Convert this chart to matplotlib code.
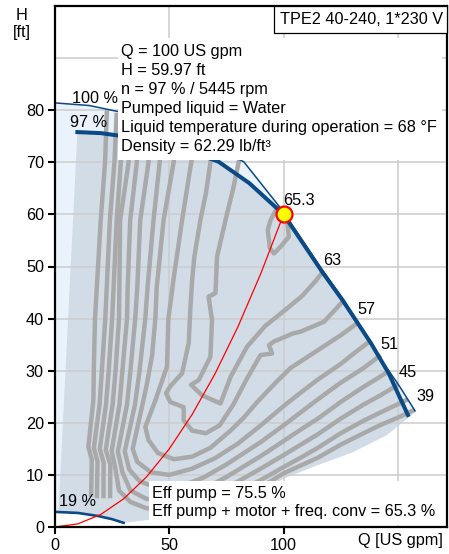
import matplotlib
matplotlib.use('Agg')
import matplotlib.pyplot as plt
from matplotlib.patches import Rectangle

plt.rcParams['font.family'] = ['Liberation Sans', 'DejaVu Sans']

# ---------------- data ----------------
x_ticks = [0, 50, 100]
y_ticks = [0, 10, 20, 30, 40, 50, 60, 70, 80]

# 100 % max curve (thin)
max_q = [0, 15, 28, 45, 60, 72, 82.6, 98.7, 100, 117, 126, 134, 141.5, 150, 157.5]
max_h = [81.4, 80.9, 79.7, 77.5, 75.0, 72.5, 70.1, 61.2, 60.4, 49.3, 43.8, 38.3, 32.8, 27.5, 22.3]
# 97 % curve (thick)
c97_q = [9.8, 20, 30, 45, 60, 71.6, 85, 100, 117, 126, 138.2, 146, 154.4]
c97_h = [75.8, 75.6, 75.0, 73.8, 72.0, 70.1, 66.0, 60.0, 48.9, 43.4, 35.3, 29.5, 21.5]
# 19 % curve
c19_q = [0, 10, 19, 25, 30]
c19_h = [2.9, 2.7, 2.1, 1.5, 0.8]
# min curve (lower boundary)
min_q = [30, 45, 60, 75, 90, 100, 115, 130, 145, 158]
min_h = [0.8, 1.6, 2.6, 3.8, 6.6, 9.3, 11.9, 14.3, 17.6, 22.2]
# left edge of shaded area
edge_q = [1.5, 9.8]
edge_h = [2.85, 75.8]
# system curve
sys_q = [0, 10, 20, 30, 40, 50, 60, 70, 80, 90, 100]
sys_h = [0, 0.6, 2.4, 5.4, 9.6, 15.0, 21.6, 29.4, 38.4, 48.6, 60.0]
duty_q = [100]
duty_h = [60]

# efficiency iso-curves
c65_q = [97.6, 94.3, 93.1, 94.0, 95.8, 98.7, 102.3, 101.6, 101.0]
c65_h = [61.6, 58.9, 57.0, 53.5, 52.5, 53.8, 55.7, 58.9, 59.7]
c63_q = [80.8, 78.0, 75.3, 74.6, 72.0, 70.9, 70.2, 67.2, 68.7, 68.0, 62.9, 59.5, 64.3, 72.4, 76.8, 84.0, 92.0, 100.0, 108.0, 114.0, 117.0]
c63_h = [71.0, 65.0, 60.2, 58.9, 54.0, 51.9, 44.9, 44.2, 39.7, 32.7, 28.2, 27.3, 25.3, 23.7, 28.8, 34.6, 38.6, 41.4, 44.3, 47.2, 48.9]
c60_q = [69.5, 68.0, 66.0, 63.6, 61.0, 60.0, 59.2, 58.5, 55.6, 50.4, 48.6, 50.4, 56.3, 56.3, 60.0, 66.0, 72.0, 78.0, 84.0, 89.9, 95.0, 93.6, 95.8, 103.8, 107.5, 117.7, 125.7]
c60_h = [73.2, 70.0, 64.0, 58.9, 52.0, 47.4, 41.7, 35.3, 29.5, 27.0, 25.7, 24.0, 23.0, 20.5, 18.5, 18.0, 19.5, 23.5, 28.5, 33.0, 33.3, 34.9, 35.6, 37.1, 37.5, 39.4, 43.2]
c57_q = [61.5, 59.6, 55.6, 52.0, 49.6, 49.0, 44.0, 39.5, 40.9, 45.0, 52.0, 60.0, 68.0, 76.8, 82.6, 88.5, 97.2, 103.0, 110.0, 118.0, 125.0, 132.5]
c57_h = [75.5, 70.0, 58.9, 48.0, 40.0, 30.8, 24.4, 19.2, 16.7, 14.2, 13.0, 13.5, 15.2, 18.5, 21.0, 24.0, 28.0, 30.5, 32.5, 34.8, 36.8, 39.2]
c54_q = [52.8, 51.9, 47.5, 44.5, 43.9, 42.5, 40.0, 37.0, 34.0, 36.0, 42.0, 50.0, 60.0, 70.0, 80.0, 90.0, 100.0, 107.5, 115.0, 125.0, 131.0, 137.3]
c54_h = [74.0, 70.0, 58.9, 46.0, 40.0, 33.0, 27.0, 21.0, 15.0, 12.5, 10.5, 10.0, 11.2, 13.2, 16.0, 19.5, 23.2, 25.8, 28.3, 31.3, 33.4, 35.5]
c51_q = [46.5, 45.8, 43.1, 40.5, 39.5, 37.0, 35.0, 30.5, 32.5, 37.0, 44.0, 55.0, 65.0, 75.0, 90.0, 100.0, 107.5, 115.0, 125.0, 135.0, 142.5]
c51_h = [76.5, 70.0, 58.9, 46.0, 40.0, 30.0, 23.5, 14.5, 11.0, 8.8, 7.6, 7.8, 9.5, 12.0, 16.3, 19.5, 22.0, 24.5, 27.7, 30.5, 33.0]
c48_q = [41.5, 40.9, 37.3, 36.0, 35.1, 33.0, 31.5, 27.5, 29.5, 33.0, 40.0, 50.0, 62.0, 75.0, 90.0, 100.0, 107.5, 115.0, 125.0, 135.0, 141.0, 145.6]
c48_h = [77.0, 70.0, 58.9, 46.0, 40.0, 30.0, 23.5, 14.5, 10.5, 7.0, 5.4, 5.2, 6.6, 9.6, 13.6, 16.5, 18.7, 20.8, 24.0, 26.9, 28.5, 29.8]
c45_q = [36.5, 35.8, 32.9, 31.8, 31.5, 29.5, 28.2, 24.8, 26.5, 28.0, 33.0, 40.0, 50.0, 60.0, 75.0, 90.0, 100.0, 107.5, 115.0, 125.0, 135.0, 142.5, 150.0]
c45_h = [77.5, 70.0, 58.9, 46.0, 40.0, 30.0, 23.5, 14.6, 11.0, 7.0, 4.8, 3.6, 3.4, 4.5, 7.5, 11.2, 13.8, 15.8, 17.8, 20.8, 23.5, 25.3, 27.3]
c42_q = [33.0, 32.2, 28.5, 28.0, 26.5, 25.2, 22.2, 24.2, 24.1]
c42_h = [78.0, 70.0, 58.9, 40.0, 30.0, 23.5, 14.8, 12.0, 5.5]
c39_q = [29.5, 28.8, 27.0, 25.0, 23.5, 22.3, 19.6, 21.3, 21.2]
c39_h = [78.5, 70.0, 58.9, 40.0, 30.0, 23.5, 15.0, 12.3, 5.5]
c36_q = [27.0, 26.0, 24.0, 22.0, 20.5, 19.5, 17.0, 18.6, 18.3]
c36_h = [79.5, 70.0, 58.9, 40.0, 30.0, 23.5, 15.2, 12.6, 5.5]
c33_q = [22.7, 21.9, 20.0, 17.5, 17.0, 16.8, 14.6, 16.1, 15.8]
c33_h = [80.0, 70.0, 58.9, 40.0, 30.8, 24.4, 15.4, 12.9, 5.8]
c42r_q = [55, 65, 75, 90, 100, 107.5, 115, 125, 135, 142.5, 154.4]
c42r_h = [2.8, 4.0, 5.8, 9.0, 11.5, 13.3, 15.2, 18.0, 20.4, 22.0, 24.5]
c39r_q = [55, 65, 75, 90, 100, 107.5, 115, 125, 135, 142.5, 150, 157.3]
c39r_h = [2.2, 3.2, 4.6, 7.6, 10.3, 11.8, 13.3, 15.8, 18.0, 19.6, 21.0, 22.5]

iso_q = [c65_q, c63_q, c60_q, c57_q, c54_q, c51_q, c48_q, c45_q, c42_q, c39_q, c36_q, c33_q, c42r_q, c39r_q]
iso_h = [c65_h, c63_h, c60_h, c57_h, c54_h, c51_h, c48_h, c45_h, c42_h, c39_h, c36_h, c33_h, c42r_h, c39r_h]

eff_labels = ['65.3', '63', '57', '51', '45', '39']
eff_label_q = [99.6, 117.4, 132.5, 142.5, 150.4, 158.0]
eff_label_h = [62.6, 51.2, 41.8, 35.1, 29.6, 25.0]

info_lines = ['Q = 100 US gpm', 'H = 59.97 ft', 'n = 97 % / 5445 rpm',
              'Pumped liquid = Water', 'Liquid temperature during operation = 68 °F',
              'Density = 62.29 lb/ft³']
eff_lines = ['Eff pump = 75.5 %', 'Eff pump + motor + freq. conv = 65.3 %']
title = 'TPE2 40-240, 1*230 V'

# ---------------- drawing ----------------
FW, FH = 449, 554
fig = plt.figure(figsize=(FW / 100, FH / 100), dpi=100)
ax = fig.add_axes([55 / FW, 27 / FH, 392 / FW, 521 / FH])
ax.set_xlim(0, 171.5)
ax.set_ylim(0, 100)

def fp(x, y):
    return (x / FW, 1 - y / FH)

dark_blue = '#0b4a85'
FS = 11.7

# shaded areas
light_q = max_q + min_q[::-1] + c19_q[::-1][1:]
light_h = max_h + min_h[::-1] + c19_h[::-1][1:]
ax.fill(light_q, light_h, color='#eaf3fb', lw=0, zorder=1)
dark_q = edge_q + c97_q + min_q[::-1] + c19_q[::-1][1:-1]
dark_h = edge_h + c97_h + min_h[::-1] + c19_h[::-1][1:-1]
ax.fill(dark_q, dark_h, color='#d1dce7', lw=0, zorder=1.1)

# grid
for yv in [10, 20, 30, 40, 50, 60, 70, 80, 90]:
    ax.axhline(yv, color='#cccccc', lw=1.1, zorder=2)
for xv in [50, 100, 150]:
    ax.axvline(xv, color='#cccccc', lw=1.1, zorder=2)

# iso-efficiency curves
for q, h in zip(iso_q, iso_h):
    ax.plot(q, h, color='#a9a9a9', lw=3.2, zorder=3, solid_capstyle='butt')

# pump curves
ax.plot(max_q, max_h, color=dark_blue, lw=1.1, zorder=4)
ax.plot(c97_q, c97_h, color=dark_blue, lw=2.9, zorder=4)
ax.plot(c19_q, c19_h, color=dark_blue, lw=1.9, zorder=4)

# system curve and duty point
ax.plot(sys_q, sys_h, color='red', lw=0.9, zorder=5)
ax.plot(duty_q, duty_h, 'o', ms=11.5, mfc='yellow', mec='red', mew=1.6, zorder=6)

for t, q, h in zip(eff_labels, eff_label_q, eff_label_h):
    ax.text(q, h, t, fontsize=FS, ha='left', va='center', zorder=8)
ax.text(7.5, 82.3, '100 %', fontsize=FS, ha='left', va='center', zorder=8)
ax.text(6.6, 77.7, '97 %', fontsize=FS, ha='left', va='center', zorder=8)
ax.text(1.8, 4.9, '19 %', fontsize=FS, ha='left', va='center', zorder=8)

# white boxes
def px_rect(x0, y0, x1, y1, **kw):
    r = Rectangle(fp(x0, y1), (x1 - x0) / FW, (y1 - y0) / FH,
                  transform=fig.transFigure, **kw)
    fig.add_artist(r)

px_rect(118, 38, 442, 160, facecolor='white', edgecolor='none', zorder=7)
px_rect(149, 481, 442, 525, facecolor='white', edgecolor='none', zorder=7)
px_rect(274, 6, 447, 33, facecolor='white', edgecolor='black', lw=0.9, zorder=7)

for i, t in enumerate(info_lines):
    fig.text(*fp(121, 51.7 + i * 19.0), t, fontsize=FS, ha='left', va='center', zorder=8)
for i, t in enumerate(eff_lines):
    fig.text(*fp(151.5, 493.3 + i * 18.4), t, fontsize=FS, ha='left', va='center', zorder=8)
fig.text(*fp(280, 19), title, fontsize=FS, ha='left', va='center', zorder=8)

fig.text(*fp(22, 15), 'H', fontsize=FS, ha='center', va='center')
fig.text(*fp(22, 33), '[ft]', fontsize=FS, ha='center', va='center')
fig.text(*fp(443, 541), 'Q [US gpm]', fontsize=FS, ha='right', va='center')

# axes styling
for s in ax.spines.values():
    s.set_linewidth(1.6)
    s.set_zorder(9)
ax.set_xticks(x_ticks)
ax.set_yticks(y_ticks)
ax.set_xticklabels([str(v) for v in x_ticks])
ax.set_yticklabels([str(v) for v in y_ticks])
ax.tick_params(direction='out', length=5, width=1.5, labelsize=FS, pad=3)

fig.savefig('out.png', dpi=100)
